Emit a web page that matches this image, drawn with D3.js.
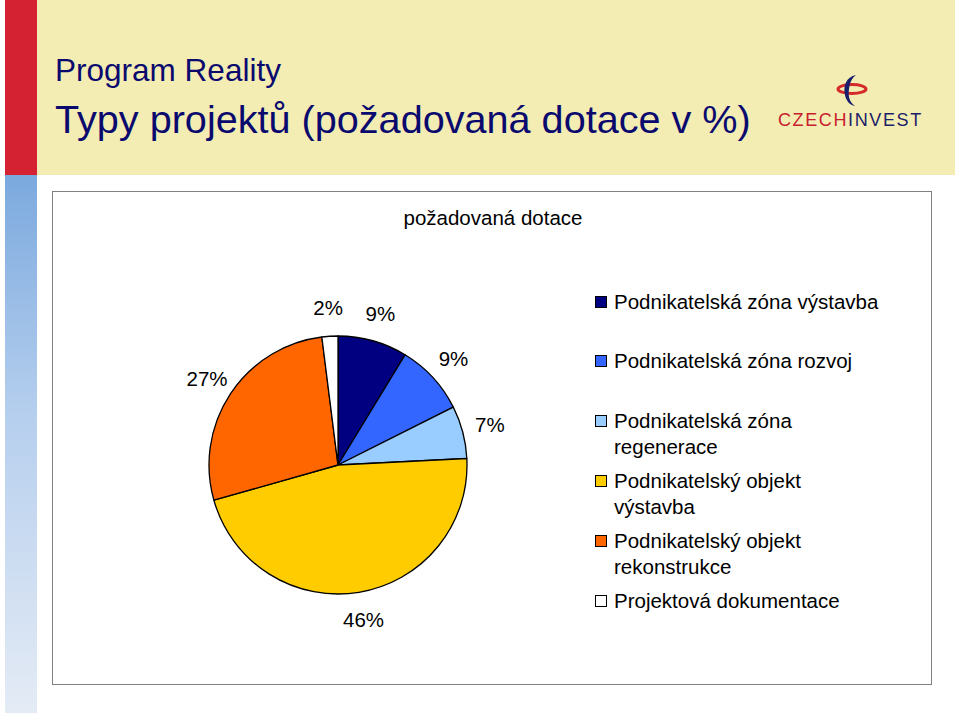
<!DOCTYPE html>
<html>
<head>
<meta charset="utf-8">
<script src="https://cdn.jsdelivr.net/npm/d3@7"></script>
<style>
  html, body { margin: 0; padding: 0; background: #ffffff; }
  svg { display: block; }
  text { font-family: "Liberation Sans", Arial, sans-serif; }
</style>
</head>
<body>
<svg id="chart" width="960" height="716"></svg>
<script>
// ---- data ----
const categories = [
  "Podnikatelská zóna výstavba",
  "Podnikatelská zóna rozvoj",
  "Podnikatelská zóna regenerace",
  "Podnikatelský objekt výstavba",
  "Podnikatelský objekt rekonstrukce",
  "Projektová dokumentace"
];
const values = [8.7, 8.9, 6.6, 46.4, 27.4, 2.0];
const colors = ["#000080", "#3366FF", "#99CCFF", "#FFCC00", "#FF6600", "#FFFFFF"];
const legendLines = [
  ["Podnikatelská zóna výstavba"],
  ["Podnikatelská zóna rozvoj"],
  ["Podnikatelská zóna", "regenerace"],
  ["Podnikatelský objekt", "výstavba"],
  ["Podnikatelský objekt", "rekonstrukce"],
  ["Projektová dokumentace"]
];
const titleSmall = "Program Reality";
const titleBig = "Typy projektů (požadovaná dotace v %)";
const chartTitle = "požadovaná dotace";

const svg = d3.select("#chart");
const FS = 20.5;

// ---- slide background ----
const defs = svg.append("defs");
const grad = defs.append("linearGradient").attr("id", "sideGrad")
  .attr("x1", 0).attr("y1", 0).attr("x2", 0).attr("y2", 1);
grad.append("stop").attr("offset", "0%").attr("stop-color", "#7BA9DE");
grad.append("stop").attr("offset", "45%").attr("stop-color", "#B6CFEE");
grad.append("stop").attr("offset", "100%").attr("stop-color", "#E4EBF5");

svg.append("rect").attr("x", 37).attr("y", 0).attr("width", 918).attr("height", 175).attr("fill", "#F3EDB4");
svg.append("rect").attr("x", 5).attr("y", 0).attr("width", 32).attr("height", 175).attr("fill", "#D52232");
svg.append("rect").attr("x", 5).attr("y", 175).attr("width", 32).attr("height", 538).attr("fill", "url(#sideGrad)");

// titles
function fitText(sel, width) {
  const w = sel.node().getComputedTextLength();
  const fs = parseFloat(sel.attr("font-size"));
  sel.attr("font-size", fs * width / w);
}
const t1 = svg.append("text").attr("x", 55).attr("y", 81).attr("font-size", 28)
  .attr("fill", "#0A0A6E").text(titleSmall);
fitText(t1, 226);
const t2 = svg.append("text").attr("x", 55).attr("y", 133).attr("font-size", 37)
  .attr("fill", "#0A0A6E").text(titleBig);
fitText(t2, 696);

// logo
const logo = svg.append("g");
logo.append("ellipse").attr("cx", 852).attr("cy", 89).attr("rx", 14).attr("ry", 4.5)
  .attr("fill", "none").attr("stroke", "#D42A2A").attr("stroke-width", 3);
logo.append("path")
  .attr("d", "M856,75 C846,77 843,86 845,95 C846,101 850,105 855,106 C849,102 848,95 849,89 C850,82 852,78 856,75 Z")
  .attr("fill", "#1B1F6B");
const lt = logo.append("text").attr("x", 778).attr("y", 126).attr("font-size", 19)
  .attr("letter-spacing", 1.6).attr("font-family", "'DejaVu Sans', sans-serif");
lt.append("tspan").attr("fill", "#C8202E").text("CZECH");
lt.append("tspan").attr("fill", "#1B2168").text("INVEST");
(function () {
  const w = lt.node().getComputedTextLength();
  lt.attr("font-size", 19 * 144 / w);
})();

// chart frame
svg.append("rect").attr("x", 52.5).attr("y", 191.5).attr("width", 879).attr("height", 493)
  .attr("fill", "#ffffff").attr("stroke", "#808080").attr("stroke-width", 1);

svg.append("text").attr("x", 493).attr("y", 225).attr("text-anchor", "middle")
  .attr("font-size", FS).attr("fill", "#000").text(chartTitle);

// ---- pie ----
const cx = 338, cy = 465, r = 129;
const pie = d3.pie().sort(null).value(d => d)(values);
const arc = d3.arc().innerRadius(0).outerRadius(r);
const labelArc = d3.arc().innerRadius(157).outerRadius(157);
const g = svg.append("g").attr("transform", `translate(${cx},${cy})`);
g.selectAll("path").data(pie).join("path")
  .attr("d", arc)
  .attr("fill", (d, i) => colors[i])
  .attr("stroke", "#000").attr("stroke-width", 1.3).attr("stroke-linejoin", "round");
const total = d3.sum(values);
g.selectAll("text.lbl").data(pie).join("text").attr("class", "lbl")
  .attr("transform", d => `translate(${labelArc.centroid(d)})`)
  .attr("text-anchor", "middle").attr("dy", "0.35em")
  .attr("font-size", FS).attr("fill", "#000")
  .text(d => Math.round(d.data / total * 100) + "%");

// ---- legend ----
const legendY = [302, 361, 421, 481, 541, 601];
const lg = svg.append("g");
categories.forEach((c, i) => {
  const row = lg.append("g").attr("transform", `translate(595,${legendY[i]})`);
  row.append("rect").attr("x", 0.5).attr("y", -5.5).attr("width", 11).attr("height", 11)
    .attr("fill", colors[i]).attr("stroke", "#000").attr("stroke-width", 1);
  const tx = row.append("text").attr("x", 19).attr("y", 0).attr("font-size", FS).attr("fill", "#000");
  legendLines[i].forEach((ln, j) => {
    tx.append("tspan").attr("x", 19).attr("dy", j === 0 ? "0.35em" : 26).text(ln);
  });
});
</script>
</body>
</html>
